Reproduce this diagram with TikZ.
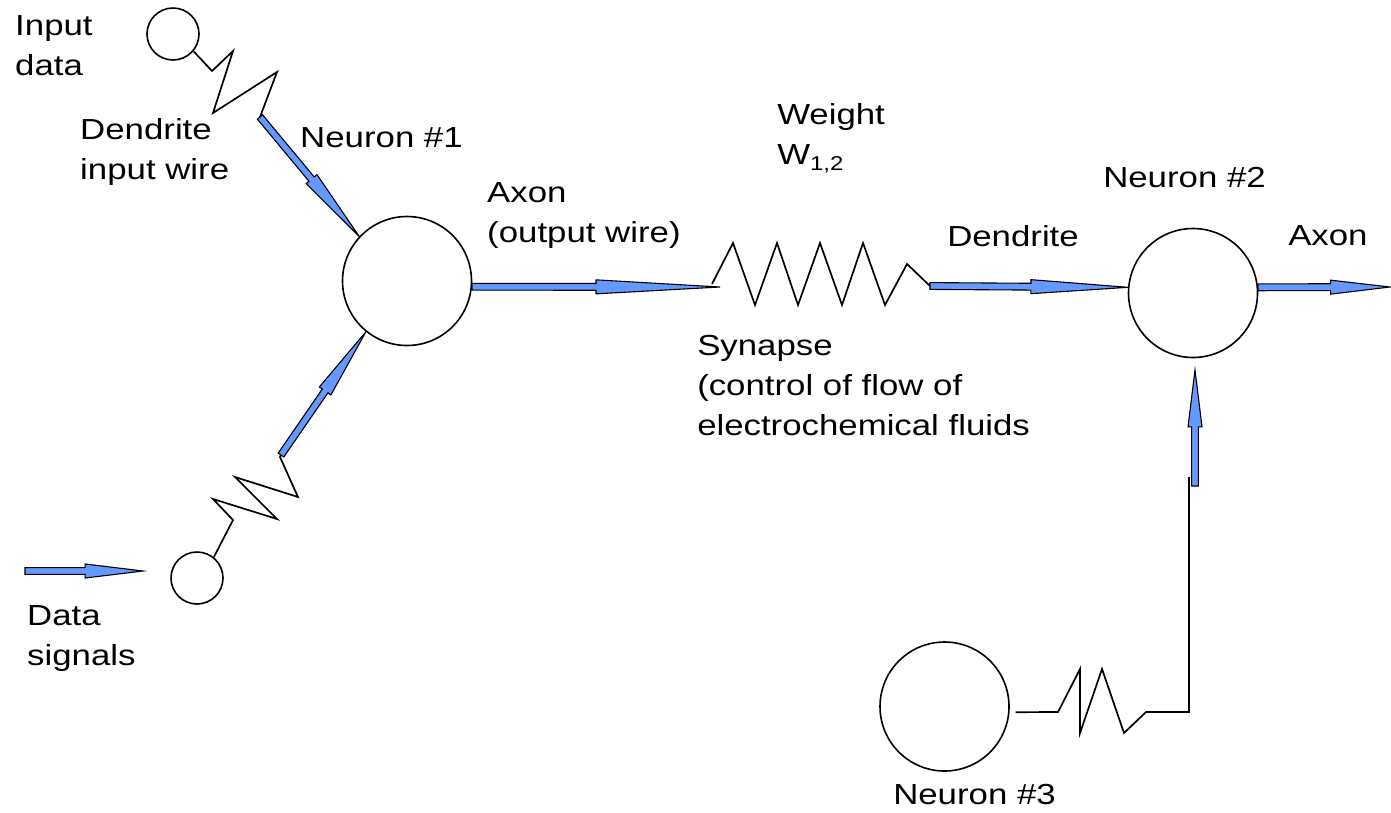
\documentclass[tikz,border=0pt]{standalone}
\usepackage{fontspec}
\setmainfont{Liberation Sans}
\usetikzlibrary{calc}
\definecolor{arrowblue}{HTML}{6699FF}
\tikzset{
  wire/.style={draw=black, line width=1.7pt, line join=miter},
  neuron/.style={circle, draw=black, line width=1.6pt, inner sep=0pt, fill=white},
  blockarrowstyle/.style={draw=black, fill=arrowblue, line width=1.1pt, line join=miter},
  lbl/.style={anchor=north west, inner sep=0pt, align=left, font=\fontsize{29}{40}\selectfont, xscale=1.2}
}
% block arrow: [fraction of length that is shaft]{start}{tip}
\newcommand{\blockarrow}[3][0.5]{%
  \path (#2) -- (#3) coordinate[pos=#1] (bamid);
  \draw[blockarrowstyle] ($(#2)!3.4pt!90:(#3)$) -- ($(bamid)!3.4pt!90:(#3)$) -- ($(bamid)!7pt!90:(#3)$) -- (#3)
     -- ($(bamid)!7pt!-90:(#3)$) -- ($(bamid)!3.4pt!-90:(#3)$) -- ($(#2)!3.4pt!-90:(#3)$) -- cycle;
}
\begin{document}
\begin{tikzpicture}[x=1pt,y=-1pt]
\useasboundingbox (0,0) rectangle (1391,812);

% ---- neurons / terminals
\node[neuron, minimum size=52pt] (inp) at (173,34) {};
\node[neuron, minimum size=52pt] (sig) at (197,578) {};
\node[neuron, minimum size=129pt] (n1) at (407,281) {};
\node[neuron, minimum size=129pt] (n2) at (1193,293) {};
\node[neuron, minimum size=129pt] (n3) at (944.5,706.5) {};

% ---- named connector ends
\coordinate (d1s) at (260,117);
\coordinate (d2s) at (281,455);
\coordinate (ds1) at (25,571);
\coordinate (ds2) at (143,571);
\coordinate (syn1) at (720,287);
\coordinate (syn2) at (930,286);
\coordinate (ax2e) at (1390,287);
\coordinate (v3s) at (1195,486);
\coordinate (v3e) at (1195,370);

% ---- dendrite from input data
\draw[wire] (inp.-40) -- (212,71) -- (233,51) -- (213,113) -- (277,72) -- (d1s);
\blockarrow[0.52]{d1s}{n1.137}

% ---- dendrite from data signals
\draw[wire] (sig.51) -- (233,520) -- (213,499) -- (277,519) -- (235,477) -- (298,497) -- (280,457) -- (d2s);
\blockarrow[0.52]{d2s}{n1.231}

% ---- data signals arrow
\blockarrow[0.51]{ds1}{ds2}

% ---- axon of neuron 1
\blockarrow[0.5]{n1.-5}{syn1}

% ---- synapse
\draw[wire] ($(syn1)+(-8,-3)$) -- (733,243) -- (755,305) -- (777,243) -- (798,305) -- (820,243)
  -- (842,305) -- (863,243) -- (885,305) -- (907,264) -- (syn2);
\blockarrow[0.51]{syn2}{n2.175}

% ---- axon of neuron 2
\blockarrow[0.55]{n2.5}{ax2e}

% ---- neuron 3 to neuron 2
\draw[wire] ($(n3.-5)+(6,0)$) -- (1058,712) -- (1080,669) -- (1080,733) -- (1102,669) -- (1124,733)
  -- (1146,712) -- (1189,712) -- (1189,477);
\blockarrow[0.51]{v3s}{v3e}

% ---- labels
\node[lbl] (tinput) at (15,15) {Input\\data};
\node[lbl] (tdend1) at (80,118) {Dendrite\\input wire};
\node[lbl] (tn1) at (300,127) {Neuron \#1};
\node[lbl] (taxon1) at (487,182) {Axon\\(output wire)};
\node[lbl] (tweight) at (777,103) {Weight\\W\raisebox{-6pt}{\fontsize{20}{20}\selectfont 1,2}};
\node[lbl] (tn2) at (1103,167) {Neuron \#2};
\node[lbl] (tdend2) at (947,225) {Dendrite};
\node[lbl] (taxon2) at (1288,225) {Axon};
\node[lbl] (tsyn) at (697,335) {Synapse\\(control of flow of\\electrochemical fluids};
\node[lbl] (tdata) at (27,605) {Data\\signals};
\node[lbl] (tn3) at (893,784) {Neuron \#3};
\end{tikzpicture}
\end{document}
